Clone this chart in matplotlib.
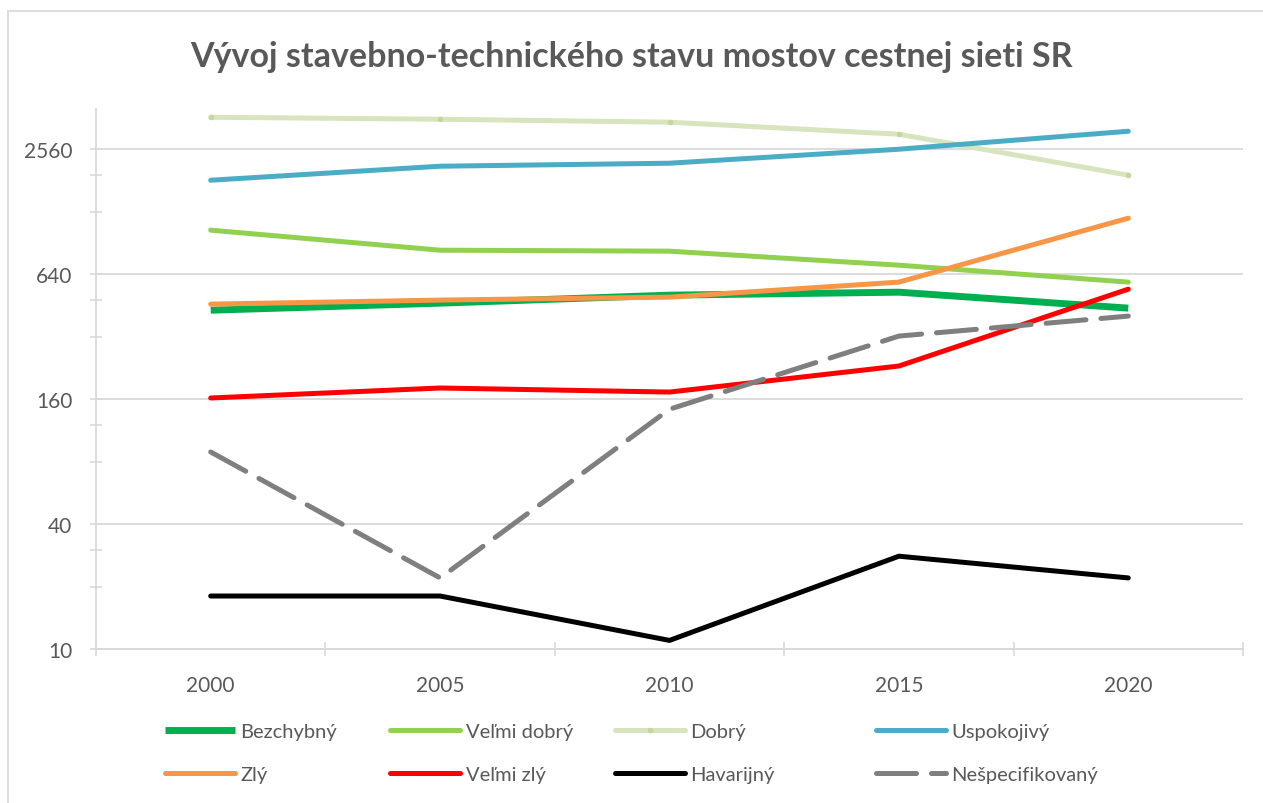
import matplotlib.pyplot as plt
import matplotlib.patches as patches
from matplotlib.ticker import FixedLocator, NullFormatter

plt.rcParams['font.family'] = ['Lato', 'DejaVu Sans']

years = ['2000', '2005', '2010', '2015', '2020']

bezchybny = [429, 464, 507, 524, 439]
velmi_dobry = [1043, 835, 826, 707, 586]
dobry = [3650, 3571, 3455, 3024, 1919]
uspokojivy = [1815, 2120, 2192, 2560, 3125]
zly = [459, 480, 496, 586, 1191]
velmi_zly = [162, 181, 173, 231, 542]
havarijny = [18, 18, 11, 28, 22]
nespecifikovany = [89, 22, 143, 322, 402]

major_ticks = [10, 40, 160, 640, 2560]
minor_ticks = [20, 30, 80, 120, 320, 480, 1280, 1920]

txt = '#595959'
grid = '#D9D9D9'

fig = plt.figure(figsize=(12.63, 8.04), dpi=100)
ax = fig.add_axes([96 / 1263, 1 - 650 / 804, (1243 - 96) / 1263, (650 - 110) / 804])

x = range(len(years))
lw = 3.6
h = []
h.append(ax.plot(x, bezchybny, color='#00B050', lw=5.0, solid_capstyle='butt', label='Bezchybný')[0])
h.append(ax.plot(x, velmi_dobry, color='#92D050', lw=lw, solid_capstyle='round', label='Veľmi dobrý')[0])
h.append(ax.plot(x, dobry, color='#D7E4BD', lw=lw, solid_capstyle='round', marker='o', ms=4,
                 mfc='#C4D79B', mec='none', label='Dobrý')[0])
h.append(ax.plot(x, uspokojivy, color='#4BACC6', lw=lw, solid_capstyle='round', label='Uspokojivý')[0])
h.append(ax.plot(x, zly, color='#F79646', lw=lw, solid_capstyle='round', label='Zlý')[0])
h.append(ax.plot(x, velmi_zly, color='#FF0000', lw=lw, solid_capstyle='round', label='Veľmi zlý')[0])
h.append(ax.plot(x, havarijny, color='#000000', lw=lw, solid_capstyle='round', label='Havarijný')[0])
h.append(ax.plot(x, nespecifikovany, color='#7F7F7F', lw=lw, dashes=(8, 3), dash_capstyle='round',
                 label='Nešpecifikovaný')[0])

ax.set_yscale('log', base=2)
ax.set_ylim(10, 4000)
ax.set_xlim(-0.5, len(years) - 0.5)

ax.yaxis.set_major_locator(FixedLocator(major_ticks))
ax.yaxis.set_minor_locator(FixedLocator(minor_ticks))
ax.set_yticklabels([str(v) for v in major_ticks])
ax.yaxis.set_minor_formatter(NullFormatter())

ax.set_xticks(list(x))
ax.set_xticklabels(years)
ax.set_xticks([i - 0.5 for i in range(len(years) + 1)], minor=True)
ax.tick_params(axis='x', which='major', length=0, pad=19, labelsize=15, labelcolor=txt)
ax.tick_params(axis='x', which='minor', direction='inout', length=10, width=1.2, color=grid)
ax.tick_params(axis='y', which='major', direction='inout', length=8, width=1.2, color=grid,
               pad=13, labelsize=15, labelcolor=txt)
ax.tick_params(axis='y', which='minor', direction='inout', length=8, width=1.2, color=grid)

ax.grid(axis='y', which='major', color=grid, lw=1.3)
ax.set_axisbelow(True)
for s in ['top', 'right']:
    ax.spines[s].set_visible(False)
for s in ['left', 'bottom']:
    ax.spines[s].set_color(grid)
    ax.spines[s].set_linewidth(1.3)

fig.text(0.5, 1 - 57 / 804, 'Vývoj stavebno-technického stavu mostov cestnej sieti SR',
         ha='center', va='center', fontsize=24.5, fontweight='bold', color=txt)

# legend, one block per column
col_x = [165, 390, 615, 876]
for c in range(4):
    lg = fig.legend(handles=[h[c], h[c + 4]], loc='upper left',
                    bbox_to_anchor=(col_x[c] / 1263, 1 - 724 / 804),
                    frameon=False, fontsize=14.5, handlelength=3.5, handletextpad=0.25,
                    labelspacing=1.3, borderaxespad=0, borderpad=0, labelcolor=txt)

fig.patches.append(patches.Rectangle((8 / 1263, -0.02), 1.1, 1 - 12 / 804 + 0.02,
                                     transform=fig.transFigure, fill=False,
                                     edgecolor=grid, lw=1.3))

fig.savefig('out.png', dpi=100, facecolor='white')
